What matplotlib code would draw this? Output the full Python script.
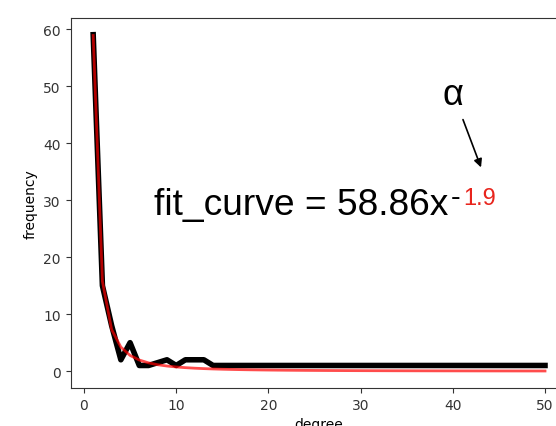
import matplotlib
matplotlib.use("Agg")
import matplotlib.pyplot as plt
import numpy as np

W, H = 556, 427

degree = list(range(1, 51))
frequency = [59, 15, 8, 2, 5, 1, 1, 1.5, 2, 1, 2, 2, 2, 1] + [1] * 36
fit_a = 58.86
fit_alpha = -1.9


def px(x, y):
    # image pixel (top-left origin) -> figure fraction
    return x / W, 1 - y / H


fig = plt.figure(figsize=(W / 100, H / 100), dpi=100)
ax = fig.add_axes([70.6 / W, 1 - 388.8 / H, 497.0 / W, 369.9 / H])

x = np.array(degree, dtype=float)
ax.plot(x, frequency, color="black", linewidth=4)
ax.plot(x, fit_a * x ** fit_alpha, color="red", linewidth=2, alpha=0.7)

ax.set_xticks([0, 10, 20, 30, 40, 50])
ax.set_yticks([0, 10, 20, 30, 40, 50, 60])
ax.set_xlabel("degree")
ax.set_ylabel("frequency")
for s in ax.spines.values():
    s.set_color("#333333")
ax.tick_params(colors="#333333")

big = ["Liberation Sans", "DejaVu Sans"]
fig.text(*px(154, 215), "fit_curve = 58.86x", fontsize=26.7, family=big,
         color="black", ha="left", va="baseline")
fig.text(*px(451, 206), "-", fontsize=21, family=big,
         color="black", ha="left", va="baseline")
fig.text(*px(463, 205), "1.9", fontsize=17, family=big,
         color="#e8241c", ha="left", va="baseline")
fig.text(*px(453, 105), "α", fontsize=26, family=big,
         color="black", ha="center", va="baseline")
ax.annotate("", xy=px(482, 171), xytext=px(462, 118),
            xycoords="figure fraction", textcoords="figure fraction",
            arrowprops=dict(arrowstyle="-|>", color="black", lw=1.2,
                            mutation_scale=12))

fig.savefig("out.png", dpi=100)
